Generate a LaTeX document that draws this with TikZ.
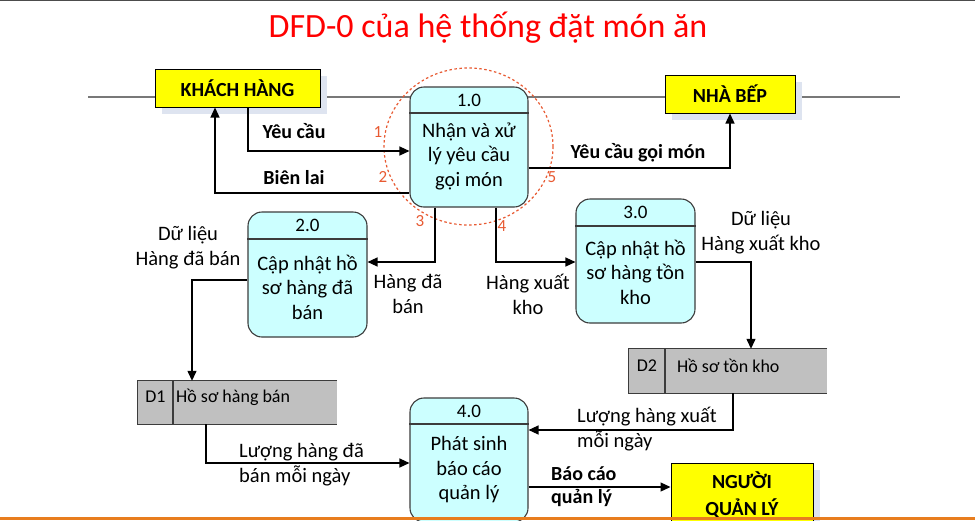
\documentclass[tikz,border=0pt]{standalone}
\usepackage{fontspec}
\setmainfont{Carlito}
\usetikzlibrary{arrows.meta,shadows}
\definecolor{procfill}{RGB}{204,255,255}
\definecolor{procline}{RGB}{60,60,60}
\definecolor{entfill}{RGB}{255,255,0}
\definecolor{shadowc}{RGB}{222,228,240}
\definecolor{storefill}{RGB}{192,192,192}
\definecolor{numc}{RGB}{232,90,50}
\definecolor{titlec}{RGB}{255,0,0}
\definecolor{orangebar}{RGB}{232,125,30}
\definecolor{axisgray}{RGB}{120,120,120}
\begin{document}
\begin{tikzpicture}[x=1pt,y=-1pt,
  proc/.style={draw=procline, line width=1.1pt, fill=procfill, rounded corners=14pt, inner sep=0pt},
  ent/.style={draw=black, line width=1pt, fill=entfill, inner sep=0pt, align=center,
    font=\fontsize{20}{27}\selectfont\bfseries,
    general shadow={fill=shadowc, shadow xshift=7pt, shadow yshift=-7pt}},
  store/.style={fill=storefill, inner sep=0pt},
  storeline/.style={draw=procline, line width=1.1pt},
  ptext/.style={align=center, inner sep=0pt, font=\fontsize{20.5}{24.5}\selectfont},
  pnum/.style={inner sep=0pt, font=\fontsize{19}{22}\selectfont},
  lbl/.style={inner sep=0pt, font=\fontsize{20.5}{25}\selectfont},
  blbl/.style={inner sep=0pt, font=\fontsize{20}{23}\selectfont\bfseries},
  stext/.style={inner sep=0pt, font=\fontsize{18}{20}\selectfont},
  flownum/.style={inner sep=0pt, text=numc, font=\fontsize{17}{20}\selectfont},
  arr/.style={draw=black, line width=1.3pt, -{Triangle[length=10pt,width=9pt]}}
]
\useasboundingbox (0,0) rectangle (975,520);
\clip (0,0) rectangle (975,520);
\fill[white] (0,0) rectangle (975,520);
\fill[black!70] (0,0) rectangle (975,1.2);

% title
\node[inner sep=0pt, text=titlec, font=\fontsize{34}{38}\selectfont] (title) at (488,28) {DFD-0 của hệ thống đặt món ăn};

% axis line
\draw[axisgray, line width=1.5pt] (88,97) -- (900,97);

% external entities
\node[ent, minimum width=165pt, minimum height=38pt] (kh) at (237.5,88) {KHÁCH HÀNG};
\node[ent, minimum width=130pt, minimum height=38pt] (nb) at (730,94) {NHÀ BẾP};
\node[ent, minimum width=142pt, minimum height=64pt] (nql) at (742,495) {NGƯỜI\\QUẢN LÝ};

% processes
\node[proc, minimum width=118pt, minimum height=120pt] (p1) at (469,147) {};
\draw[procline, line width=1.1pt] (p1.west |- 0,113) -- (p1.east |- 0,113);
\node[pnum] (p1n) at (469,100) {1.0};
\node[ptext] (p1t) at (469,156) {Nhận và xử\\lý yêu cầu\\gọi món};

\node[proc, minimum width=119pt, minimum height=125pt] (p2) at (307.5,274.5) {};
\draw[procline, line width=1.1pt] (p2.west |- 0,239) -- (p2.east |- 0,239);
\node[pnum] (p2n) at (307.5,225.5) {2.0};
\node[ptext] (p2t) at (307.5,287) {Cập nhật hồ\\sơ hàng đã\\bán};

\node[proc, minimum width=119pt, minimum height=124pt] (p3) at (635.5,261) {};
\draw[procline, line width=1.1pt] (p3.west |- 0,226) -- (p3.east |- 0,226);
\node[pnum] (p3n) at (635.5,212.5) {3.0};
\node[ptext] (p3t) at (635.5,272) {Cập nhật hồ\\sơ hàng tồn\\kho};

\node[proc, minimum width=118pt, minimum height=124pt] (p4) at (469,460) {};
\draw[procline, line width=1.1pt] (p4.west |- 0,424) -- (p4.east |- 0,424);
\node[pnum] (p4n) at (469,411) {4.0};
\node[ptext] (p4t) at (469,470) {Phát sinh\\báo cáo\\quản lý};

% dotted circle around 1.0
\draw[numc, line width=1.2pt, dash pattern=on 2.5pt off 2.5pt] (p1.center) ++(-0.5,-0.5) ellipse [x radius=84.5, y radius=78.5];

% data stores
\node[store, minimum width=199pt, minimum height=43pt] (d1) at (237.5,402.5) {};
\draw[storeline] (d1.north east) -- (d1.north west) -- (d1.south west) -- (d1.south east);
\draw[storeline] (d1.north -| 173,0) -- (d1.south -| 173,0);
\node[stext] (d1a) at (155.5,397) {D1};
\node[stext, anchor=west] (d1b) at (176,397) {Hồ sơ hàng bán};

\node[store, minimum width=198pt, minimum height=44pt] (d2) at (728,371) {};
\draw[storeline] (d2.north east) -- (d2.north west) -- (d2.south west) -- (d2.south east);
\draw[storeline] (d2.north -| 665,0) -- (d2.south -| 665,0);
\node[stext] (d2a) at (647,366) {D2};
\node[stext, anchor=west] (d2b) at (677,366) {Hồ sơ tồn kho};

% flows
\draw[arr] (kh.south -| 248,0) |- (p1.west |- 0,151);
\draw[arr] (p1.west |- 0,193) -| (kh.south -| 215,0);
\draw[arr] (p1.east |- 0,168) -| (nb.south);
\draw[arr] (p1.south -| 435,0) |- (p2.east |- 0,262);
\draw[arr] (p1.south -| 496,0) |- (p3.west |- 0,262);
\draw[arr] (p2.west |- 0,280) -| (d1.north -| 192,0);
\draw[arr] (p3.east |- 0,262) -| (d2.north -| 751,0);
\draw[arr] (d1.south -| 206,0) |- (p4.west |- 0,463);
\draw[arr] (d2.south -| 733,0) |- (p4.east |- 0,430);
\draw[arr] (p4.east |- 0,487) -- (nql.west |- 0,487);

% flow labels
\node[blbl] (l1) at (294,131) {Yêu cầu};
\node[blbl] (l2) at (294,178) {Biên lai};
\node[blbl] (l3) at (638,153) {Yêu cầu gọi món};
\node[lbl, align=center] (l4) at (408,294) {Hàng đã\\bán};
\node[lbl, align=center] (l5) at (528,294) {Hàng xuất\\kho};
\node[lbl, align=center] (l6) at (188,248) {Dữ liệu\\Hàng đã bán};
\node[lbl, align=center] (l7) at (761,233) {Dữ liệu\\Hàng xuất kho};
\node[lbl, align=left, anchor=west] (l8) at (239,464.5) {Lượng hàng đã\\bán mỗi ngày};
\node[lbl, align=left, anchor=west] (l9) at (577,429.5) {Lượng hàng xuất\\mỗi ngày};
\node[blbl, align=left, anchor=west] (l10) at (551,487) {Báo cáo\\quản lý};

% flow numbers
\node[flownum] (n1) at (378,132) {1};
\node[flownum] (n2) at (383,177) {2};
\node[flownum] (n3) at (420,221) {3};
\node[flownum] (n4) at (502,226) {4};
\node[flownum] (n5) at (552,177) {5};

% bottom bar
\fill[orangebar] (0,516.5) rectangle (975,520);
\end{tikzpicture}
\end{document}
